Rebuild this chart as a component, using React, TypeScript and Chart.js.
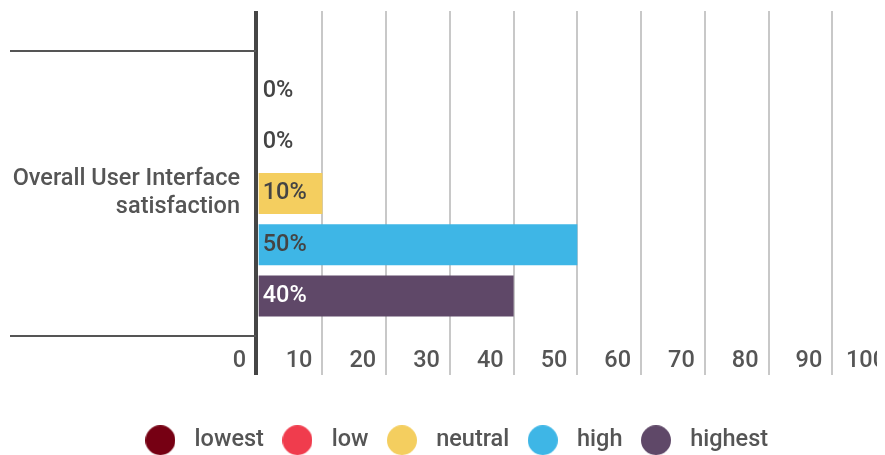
import { useEffect, useRef } from 'react';
import { Chart, registerables } from 'chart.js';

Chart.register(...registerables);

// Survey question shown on the category axis
const categories = [['Overall User Interface', 'satisfaction']];

// Answer buckets (legend order)
const seriesNames = ['lowest', 'low', 'neutral', 'high', 'highest'];

// Share of answers per bucket, in percent
const lowestValues = [0];
const lowValues = [0];
const neutralValues = [10];
const highValues = [50];
const highestValues = [40];

// Value axis ticks
const xTickValues = [0, 10, 20, 30, 40, 50, 60, 70, 80, 90, 100];
const xTickLabels = ['0', '10', '20', '30', '40', '50', '60', '70', '80', '90', '100'];

const seriesColors = ['#760013', '#F03C4D', '#F4CE5F', '#3EB6E6', '#5F4868'];
const valueLabelColors = ['#444444', '#444444', '#444444', '#444444', '#ffffff'];

const FONT = 'Roboto';
const WEIGHT = 500;
const SIZE = 23.5;
const TEXT = '#555555';
// the baseline rule is drawn slightly left of the zero position
const AXIS_GAP = 0.42;

const seriesValues = [lowestValues, lowValues, neutralValues, highValues, highestValues];

function makeDot(color: string) {
  const c = document.createElement('canvas');
  c.width = 30;
  c.height = 30;
  const g = c.getContext('2d')!;
  g.fillStyle = color;
  g.beginPath();
  g.arc(15, 15, 15, 0, Math.PI * 2);
  g.fill();
  return c;
}

// Writes "<value>%" at the start of every bar
const valueLabels = {
  id: 'valueLabels',
  afterDatasetsDraw(chart: any) {
    const ctx = chart.ctx;
    ctx.save();
    ctx.font = `${WEIGHT} ${SIZE}px ${FONT}`;
    ctx.textBaseline = 'middle';
    ctx.textAlign = 'left';
    chart.data.datasets.forEach((ds: any, i: number) => {
      const meta = chart.getDatasetMeta(i);
      meta.data.forEach((bar: any, j: number) => {
        ctx.fillStyle = valueLabelColors[i];
        ctx.fillText(`${ds.data[j]}%`, bar.base + 4, bar.y);
      });
    });
    ctx.restore();
  },
};

const useFixedTicks = (scale: any) => {
  scale.ticks = xTickValues.map((v, i) => ({ value: i === 0 ? -AXIS_GAP : v }));
};

const gridColor = (c: any) => (c.index === 0 ? '#454545' : '#c8c8c8');
const gridWidth = (c: any) => (c.index === 0 ? 4 : 2);

const font = { family: FONT, size: SIZE, weight: WEIGHT, lineHeight: 1.2 };

export default function App() {
  const ref = useRef<HTMLCanvasElement>(null);

  useEffect(() => {
    document.documentElement.style.overflow = 'hidden';
    const dots = seriesColors.map(makeDot);

    const chart = new Chart(ref.current!, {
      type: 'bar',
      data: {
        labels: categories as any,
        datasets: seriesNames.map((name, i) => ({
          label: name,
          data: seriesValues[i],
          backgroundColor: seriesColors[i],
          borderWidth: 0,
          categoryPercentage: 0.9,
          barPercentage: 0.8,
        })),
      },
      options: {
        indexAxis: 'y',
        responsive: false,
        animation: false,
        devicePixelRatio: 1,
        layout: { padding: { left: 2, top: 3, right: 0, bottom: 0 } },
        plugins: {
          tooltip: { enabled: false },
          legend: {
            position: 'bottom',
            labels: {
              usePointStyle: true,
              pointStyleWidth: 45,
              boxHeight: 22,
              padding: 11,
              color: TEXT,
              font,
              generateLabels: (ch: any) =>
                Chart.defaults.plugins.legend.labels
                  .generateLabels(ch)
                  .map((it: any, i: number) => ({ ...it, pointStyle: dots[i] })),
            },
          },
        },
        scales: {
          x: {
            type: 'linear',
            position: 'bottom',
            min: -AXIS_GAP,
            max: 100,
            afterBuildTicks: useFixedTicks,
            afterFit: (s: any) => {
              s.height = 81.5;
            },
            grid: { color: gridColor, lineWidth: gridWidth, tickLength: 39, drawOnChartArea: true },
            border: { display: false },
            ticks: {
              align: 'end',
              labelOffset: -10,
              padding: -28,
              autoSkip: false,
              maxRotation: 0,
              color: TEXT,
              font,
              callback: (_v: any, i: number) => xTickLabels[i],
            },
          },
          x2: {
            type: 'linear',
            axis: 'x',
            position: 'top',
            min: -AXIS_GAP,
            max: 100,
            afterBuildTicks: useFixedTicks,
            grid: { color: gridColor, lineWidth: gridWidth, tickLength: 40, drawOnChartArea: false },
            border: { display: false },
            ticks: { display: false },
          },
          y: {
            position: 'left',
            afterFit: (s: any) => {
              s.width = 246;
            },
            grid: { offset: true, drawOnChartArea: false, tickLength: 246, color: '#555555', lineWidth: 2 },
            border: { display: false },
            ticks: { padding: -230, color: TEXT, font },
          },
        },
      } as any,
      plugins: [valueLabels],
    });
    return () => chart.destroy();
  }, []);

  return (
    <div style={{ width: 877, height: 447, overflow: 'hidden' }}>
      <canvas ref={ref} width={888} height={454} style={{ display: 'block' }} />
    </div>
  );
}
